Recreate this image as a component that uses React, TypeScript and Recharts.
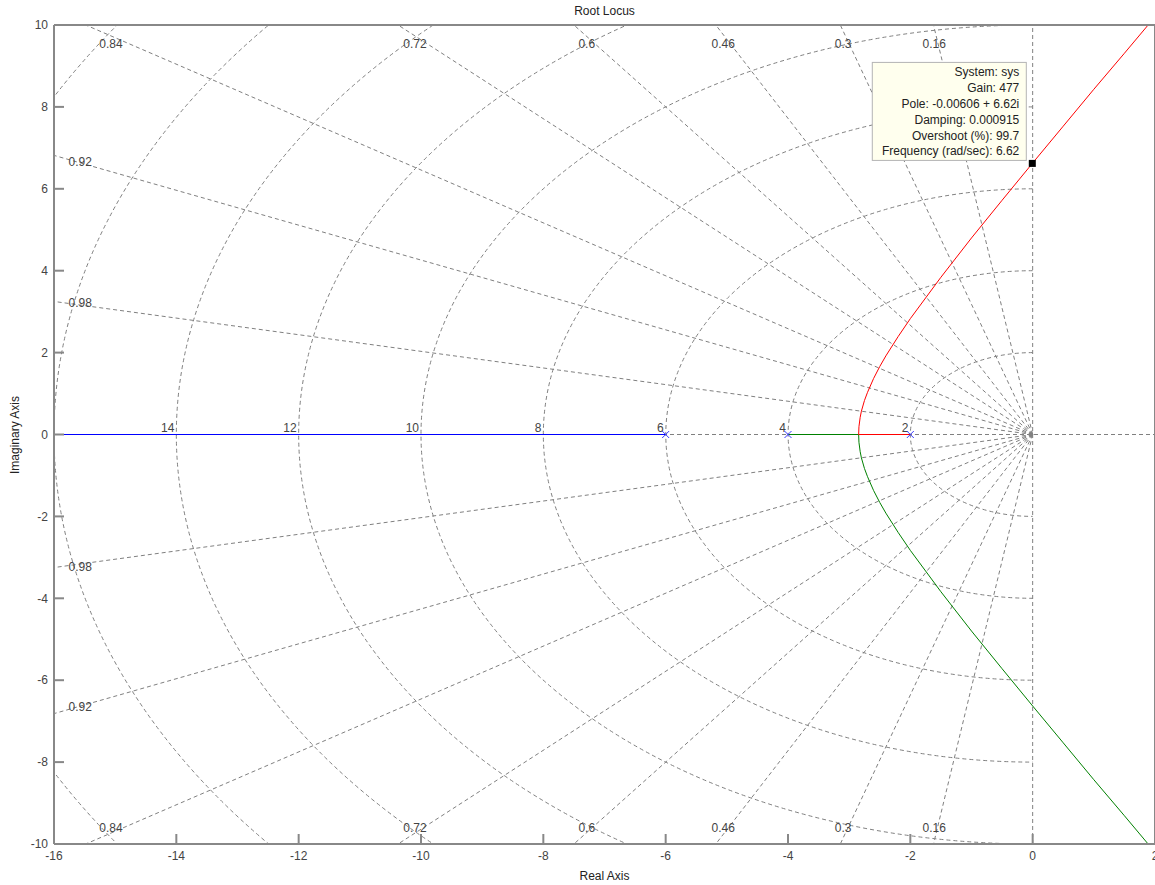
import {
  ComposedChart,
  Line,
  Scatter,
  XAxis,
  YAxis,
  ReferenceLine,
  ReferenceDot,
} from 'recharts';

// open-loop poles of sys (no finite zeros)
const POLES = [-6, -4, -2];

// upper complex branch after breakaway: real part / imaginary part
const BRANCH_RE = [-2.845, -2.84, -2.82, -2.8, -2.75, -2.7, -2.6, -2.5, -2.4, -2.2, -2.0, -1.5, -1.0, -0.5, 0, 0.5, 1.0, 1.5, 2.0];
const BRANCH_IM = [0, 0.19, 0.42, 0.57, 0.83, 1.03, 1.37, 1.66, 1.92, 2.39, 2.83, 3.84, 4.8, 5.72, 6.63, 7.53, 8.43, 9.31, 10.2];

// sgrid values
const DAMPING = [0.16, 0.3, 0.46, 0.6, 0.72, 0.84, 0.92, 0.98];
const NAT_FREQ = [2, 4, 6, 8, 10, 12, 14, 16, 18];

const X_TICKS = [-16, -14, -12, -10, -8, -6, -4, -2, 0, 2];
const Y_TICKS = [-10, -8, -6, -4, -2, 0, 2, 4, 6, 8, 10];

// data cursor
const SEL_RE = -0.00606;
const SEL_IM = 6.62;
const SEL_GAIN = 477;
const SEL_DAMPING = 0.000915;
const SEL_OVERSHOOT = 99.7;
const SEL_FREQ = 6.62;

// where the damping labels sit along the grid rays
const ZETA_LABELS = [
  { text: '0.84', x: -15.07, y: 9.55 },
  { text: '0.72', x: -10.1, y: 9.55 },
  { text: '0.6', x: -7.29, y: 9.55 },
  { text: '0.46', x: -5.06, y: 9.55 },
  { text: '0.3', x: -3.1, y: 9.55 },
  { text: '0.16', x: -1.61, y: 9.55 },
  { text: '0.92', x: -15.57, y: 6.66 },
  { text: '0.98', x: -15.57, y: 3.22 },
  { text: '0.98', x: -15.57, y: -3.22 },
  { text: '0.92', x: -15.57, y: -6.66 },
  { text: '0.84', x: -15.07, y: -9.6 },
  { text: '0.72', x: -10.1, y: -9.6 },
  { text: '0.6', x: -7.29, y: -9.6 },
  { text: '0.46', x: -5.06, y: -9.6 },
  { text: '0.3', x: -3.1, y: -9.6 },
  { text: '0.16', x: -1.61, y: -9.6 },
];

const FONT = '"Liberation Sans", Arial, sans-serif';
const GRID = '#808080';
const FRAME = '#888888';
const TEXT = '#444';

const blueBranch = [
  { x: POLES[0], y: 0 },
  { x: -16, y: 0 },
];
const redBranch = [{ x: POLES[2], y: 0 }, ...BRANCH_RE.map((x, i) => ({ x, y: BRANCH_IM[i] }))];
const greenBranch = [{ x: POLES[1], y: 0 }, ...BRANCH_RE.map((x, i) => ({ x, y: -BRANCH_IM[i] }))];
const poleData = POLES.map((x) => ({ x, y: 0 }));
const cursorData = [{ x: SEL_RE, y: SEL_IM }];

const tipLines = [
  'System: sys',
  `Gain: ${SEL_GAIN}`,
  `Pole: ${SEL_RE} + ${SEL_IM}i`,
  `Damping: ${SEL_DAMPING}`,
  `Overshoot (%): ${SEL_OVERSHOOT}`,
  `Frequency (rad/sec): ${SEL_FREQ}`,
];

// half ellipse in the left half plane; the segment runs from (-wn, 0) to (0, wn)
const freqArc = (wn: number) => (props: any) => {
  const { x1, y1, x2, y2, clipPath } = props;
  const cx = x2;
  const cy = y1;
  const rx = x2 - x1;
  const ry = y1 - y2;
  return (
    <g>
      <path
        d={`M${cx},${cy - ry} A${rx},${ry} 0 0 0 ${cx},${cy + ry}`}
        fill="none"
        stroke={GRID}
        strokeDasharray="4 3"
        clipPath={clipPath}
      />
      {wn <= 14 && (
        <text x={x1 - 2} y={cy - 3} textAnchor="end" fontSize={12} fontFamily={FONT} fill={TEXT}>
          {wn}
        </text>
      )}
    </g>
  );
};

const PoleMark = (props: any) => {
  const { cx, cy } = props;
  const s = 3.5;
  return (
    <path
      d={`M${cx - s},${cy - s}L${cx + s},${cy + s}M${cx - s},${cy + s}L${cx + s},${cy - s}`}
      stroke="#3a3aff"
      strokeWidth={1}
    />
  );
};

const DataTip = (props: any) => {
  const { cx, cy } = props;
  return (
    <g>
      <rect x={cx - 160} y={cy - 101} width={154} height={98} fill="#ffffee" stroke="#b4b4b4" />
      {tipLines.map((t, i) => (
        <text
          key={i}
          x={cx - 13}
          y={cy - 87 + i * 15.8}
          textAnchor="end"
          fontSize={12}
          fontFamily={FONT}
          fill="#222"
        >
          {t}
        </text>
      ))}
      <rect x={cx - 3.5} y={cy - 3.5} width={7} height={7} fill="#000" />
    </g>
  );
};

const zetaText = (text: string) => (props: any) => (
  <text
    x={props.cx}
    y={props.cy}
    dy="0.35em"
    textAnchor="middle"
    fontSize={12}
    fontFamily={FONT}
    fill={TEXT}
  >
    {text}
  </text>
);

export default function App() {
  const tickStyle = { fill: TEXT, fontSize: 12, fontFamily: FONT };
  return (
    <div
      style={{
        position: 'absolute',
        left: 0,
        top: 0,
        width: 1155,
        height: 885,
        background: '#fff',
        fontFamily: FONT,
        overflow: 'hidden',
      }}
    >
      <ComposedChart width={1155} height={885} margin={{ top: 24, right: -1, bottom: 40, left: 53 }}>
        <XAxis
          dataKey="x"
          type="number"
          domain={[-16, 2]}
          ticks={X_TICKS}
          interval={0}
          allowDataOverflow
          height={1}
          tickSize={-10}
          tickMargin={17}
          tick={tickStyle}
          stroke={FRAME}
          strokeWidth={2}
        />
        <XAxis
          xAxisId="top"
          orientation="top"
          type="number"
          domain={[-16, 2]}
          ticks={X_TICKS}
          interval={0}
          allowDataOverflow
          height={1}
          tickSize={-10}
          tick={false}
          stroke={FRAME}
          strokeWidth={2}
        />
        <YAxis
          dataKey="y"
          type="number"
          domain={[-10, 10]}
          ticks={Y_TICKS}
          interval={0}
          allowDataOverflow
          width={1}
          tickSize={-10}
          tickMargin={16}
          tick={tickStyle}
          stroke={FRAME}
          strokeWidth={2}
        />
        <YAxis
          yAxisId="right"
          orientation="right"
          type="number"
          domain={[-10, 10]}
          ticks={Y_TICKS}
          interval={0}
          allowDataOverflow
          width={1}
          tickSize={-10}
          tick={false}
          stroke={FRAME}
          strokeWidth={2}
        />

        <ReferenceLine x={0} stroke={GRID} strokeDasharray="4 3" />
        <ReferenceLine y={0} stroke={GRID} strokeDasharray="4 3" />
        {DAMPING.flatMap((z) => {
          const far = 40;
          const re = -far * z;
          const im = far * Math.sqrt(1 - z * z);
          return [1, -1].map((sgn) => (
            <ReferenceLine
              key={`z${z}${sgn}`}
              segment={[
                { x: 0, y: 0 },
                { x: re, y: sgn * im },
              ]}
              ifOverflow="hidden"
              stroke={GRID}
              strokeDasharray="4 3"
            />
          ));
        })}
        {NAT_FREQ.map((wn) => (
          <ReferenceLine
            key={`w${wn}`}
            segment={[
              { x: -wn, y: 0 },
              { x: 0, y: wn },
            ]}
            ifOverflow="hidden"
            shape={freqArc(wn)}
          />
        ))}
        {ZETA_LABELS.map((l, i) => (
          <ReferenceDot key={`zl${i}`} x={l.x} y={l.y} r={0} shape={zetaText(l.text)} />
        ))}

        <Line data={blueBranch} dataKey="y" stroke="#0000ff" strokeWidth={1} dot={false} type="linear" isAnimationActive={false} />
        <Line data={greenBranch} dataKey="y" stroke="#008000" strokeWidth={1} dot={false} type="linear" isAnimationActive={false} />
        <Line data={redBranch} dataKey="y" stroke="#ff0000" strokeWidth={1} dot={false} type="linear" isAnimationActive={false} />
        <Scatter data={poleData} dataKey="y" shape={PoleMark} isAnimationActive={false} />
        <Scatter data={cursorData} dataKey="y" shape={DataTip} isAnimationActive={false} />
      </ComposedChart>

      <div style={{ position: 'absolute', left: 54, top: 4, width: 1101, textAlign: 'center', fontSize: 12, lineHeight: '14px', color: '#222' }}>
        Root Locus
      </div>
      <div style={{ position: 'absolute', left: 54, top: 869, width: 1101, textAlign: 'center', fontSize: 12, lineHeight: '14px', color: '#222' }}>
        Real Axis
      </div>
      <div
        style={{
          position: 'absolute',
          left: 15 - 60,
          top: 435 - 7,
          width: 120,
          height: 14,
          textAlign: 'center',
          fontSize: 12,
          lineHeight: '14px',
          color: '#222',
          transform: 'rotate(-90deg)',
        }}
      >
        Imaginary Axis
      </div>
    </div>
  );
}
